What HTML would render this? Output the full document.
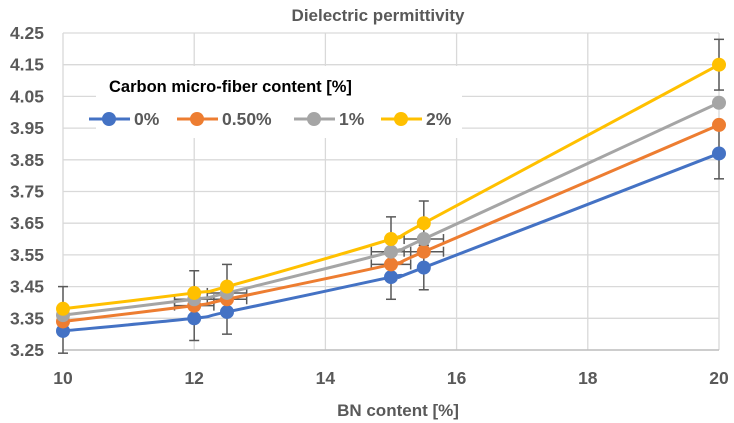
<!DOCTYPE html>
<html><head><meta charset="utf-8"><style>
body{margin:0;background:#fff;}
svg{display:block;font-family:"Liberation Sans",Arial,sans-serif;font-weight:bold;}
</style></head><body>
<svg id="chart" width="734" height="423"></svg>
<script>
const xValues=[10,12,12.5,15,15.5,20];
const s0=[3.31,3.35,3.37,3.48,3.51,3.87];
const s05=[3.34,3.39,3.41,3.52,3.56,3.96];
const s1=[3.36,3.41,3.43,3.56,3.60,4.03];
const s2=[3.38,3.43,3.45,3.60,3.65,4.15];
const yErr=[0.07,0.07,0.07,0.07,0.07,0.08];
const xErr=[0,0.3,0.3,0.3,0.3,0];
const yTicks=[3.25,3.35,3.45,3.55,3.65,3.75,3.85,3.95,4.05,4.15,4.25];
const xTicks=[10,12,14,16,18,20];
const seriesNames=["0%","0.50%","1%","2%"];
const colors=["#4472c4","#ed7d31","#a5a5a5","#ffc000"];
const series=[s0,s05,s1,s2];
const NS="http://www.w3.org/2000/svg";
const svg=document.getElementById('chart');
const X=v=>63+(v-10)*65.6;
const Y=v=>350-(v-3.25)*317;
function mk(t,a,p){const e=document.createElementNS(NS,t);for(const k in a)e.setAttribute(k,a[k]);(p||svg).appendChild(e);return e;}
function smooth(pts){
 let d='M'+pts[0][0]+','+pts[0][1];
 for(let i=0;i<pts.length-1;i++){
  const p0=pts[i-1]||pts[i],p1=pts[i],p2=pts[i+1],p3=pts[i+2]||p2;
  const t=0.16;
  const c1=[p1[0]+(p2[0]-p0[0])*t,p1[1]+(p2[1]-p0[1])*t];
  const c2=[p2[0]-(p3[0]-p1[0])*t,p2[1]-(p3[1]-p1[1])*t];
  d+=' C'+c1+' '+c2+' '+p2;
 }
 return d;
}
yTicks.forEach(t=>{
 const l=mk('line',{x1:63,x2:719,y1:Y(t),y2:Y(t),stroke:'#d9d9d9','stroke-width':1.3});
 
 
 const tx=mk('text',{x:44,y:Y(t)+6,'text-anchor':'end','font-size':17.5,fill:'#595959'});
 tx.textContent=t.toFixed(2);
 
 
});
xTicks.forEach(t=>{
 const l=mk('line',{x1:X(t),x2:X(t),y1:Y(4.25),y2:Y(3.25),stroke:'#d9d9d9','stroke-width':1.3});
 
 
 const tx=mk('text',{x:X(t),y:384,'text-anchor':'middle','font-size':17.5,fill:'#595959'});
 tx.textContent=t;
 
 
});
const ax=mk('line',{x1:63,x2:719,y1:350,y2:350,stroke:'#bfbfbf','stroke-width':1.5});


const lb=mk('rect',{x:96,y:66,width:366,height:72,fill:'#fff'});


const lt=mk('text',{x:109,y:92,'font-size':16.5,fill:'#000'});
lt.textContent='Carbon micro-fiber  content [%]';


const legX=[89,177,294,381];
seriesNames.forEach((n,i)=>{
 const g=mk('g',{});
 
 
 mk('line',{x1:legX[i],x2:legX[i]+41,y1:119,y2:119,stroke:colors[i],'stroke-width':3},g);
 mk('circle',{cx:legX[i]+20,cy:119,r:7,fill:colors[i]},g);
 const t=mk('text',{x:legX[i]+45,y:125,'font-size':17.5,fill:'#595959'},g);
 t.textContent=n;
});
function ebars(s,useX,useY){
 s.forEach((v,j)=>{
  const g=mk('g',{stroke:'#595959','stroke-width':1.5});
  
  
  if(useY){mk('line',{x1:X(xValues[j]),x2:X(xValues[j]),y1:Y(v-yErr[j]),y2:Y(v+yErr[j])},g);
   mk('line',{x1:X(xValues[j])-5,x2:X(xValues[j])+5,y1:Y(v-yErr[j]),y2:Y(v-yErr[j])},g);
   mk('line',{x1:X(xValues[j])-5,x2:X(xValues[j])+5,y1:Y(v+yErr[j]),y2:Y(v+yErr[j])},g);}
  if(useX&&xErr[j]>0){mk('line',{x1:X(xValues[j]-xErr[j]),x2:X(xValues[j]+xErr[j]),y1:Y(v),y2:Y(v)},g);
   mk('line',{x1:X(xValues[j]-xErr[j]),x2:X(xValues[j]-xErr[j]),y1:Y(v)-5,y2:Y(v)+5},g);
   mk('line',{x1:X(xValues[j]+xErr[j]),x2:X(xValues[j]+xErr[j]),y1:Y(v)-5,y2:Y(v)+5},g);}
 });
}
ebars(s0,false,true);ebars(s2,false,true);ebars(s1,true,false);ebars(s05,true,false);
series.forEach((s,i)=>{
 const p=mk('path',{d:smooth(s.map((v,j)=>[X(xValues[j]),Y(v)])),fill:'none',stroke:colors[i],'stroke-width':3,'stroke-linejoin':'round'});
 
 
 s.forEach((v,j)=>{
  const c=mk('circle',{cx:X(xValues[j]),cy:Y(v),r:7,fill:colors[i]});
  
  
 });
});
const title=mk('text',{x:378,y:21,'text-anchor':'middle','font-size':17,fill:'#595959'});
title.textContent='Dielectric permittivity';


const xt=mk('text',{x:398,y:416,'text-anchor':'middle','font-size':17,fill:'#595959'});
xt.textContent='BN content [%]';


</script>
</body></html>
